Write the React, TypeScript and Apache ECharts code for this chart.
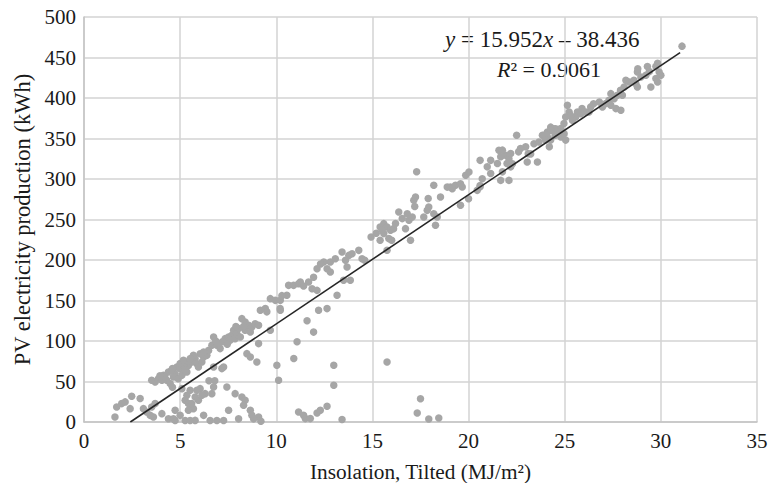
import React, { useEffect, useRef } from "react";
import * as echarts from "echarts";

const FONT = '"Liberation Serif", "Times New Roman", serif';

const xTicks = { min: 0, max: 35, interval: 5 };
const yTicks = { min: 0, max: 500, interval: 50 };

const xAxisName = "Insolation, Tilted (MJ/m²)";
const yAxisName = "PV electricity production (kWh)";

const trendSlope = 15.952;
const trendIntercept = -38.436;
const trendXRange = [2.41, 31.0];
const equationText = "{i|y} = 15.952{i|x} – 38.436";
const r2Text = "{i|R}² = 0.9061";

// Upper band, low insolation
const bandLow: number[][] = [
  [1.61, 6.2], [1.7, 18.6], [1.96, 22.7], [2.14, 24.8], [2.4, 16.5], [2.48, 31.7], [2.92, 29],
  [3.09, 16.5], [3.52, 51.5], [3.7, 49.4], [3.87, 53.5], [4.05, 51.5], [4.13, 57.6], [4.39, 61.7],
  [4.56, 63.8], [4.74, 59.7], [4.65, 55.5], [4.3, 51.5], [4.48, 47.4], [4.83, 67.9], [5.0, 65.8],
  [4.9, 53.5], [5.09, 57.6], [5.35, 61.7], [5.43, 69.9], [5.6, 74], [5.78, 78.2], [5.87, 72],
  [5.95, 67.9], [6.13, 74], [6.22, 80.2], [6.39, 82.3], [6.48, 88.4], [6.04, 84.3], [5.69, 82.3],
  [5.35, 74], [5.17, 69.9], [5.0, 72.1], [5.17, 76.2], [5.52, 78.2], [6.22, 86.5], [4.2, 56],
  [4.6, 66], [3.95, 57], [5.25, 64],
];

// Upper band, insolation 6.5 - 10.6
const bandMidLow: number[][] = [
  [6.74, 105], [6.65, 94.7], [6.91, 94.7], [7.08, 90.6], [7.34, 102.9], [7.52, 105], [7.69, 107.1],
  [7.78, 113.2], [7.6, 100.8], [7.86, 102.9], [7.95, 109.1], [8.04, 115.3], [8.13, 105], [8.21, 127.6],
  [8.38, 123.5], [8.38, 113.2], [8.56, 119.4], [8.65, 111.1], [8.73, 117.3], [8.9, 121.4], [9.08, 119.4],
  [9.17, 138], [9.43, 140], [9.51, 136], [9.69, 113.2], [9.69, 152.3], [9.95, 150.2], [10.21, 150.2],
  [10.21, 138], [10.55, 156.4], [7.0, 97], [7.2, 99], [6.85, 100], [7.45, 96], [8.3, 118], [7.9, 118],
];

// Upper band, insolation 10.6 - 15
const bandMid: number[][] = [
  [10.64, 168.7], [10.9, 168.7], [11.16, 170.8], [11.68, 172.8], [11.86, 164.6], [12.12, 162.5],
  [10.29, 156], [10.2, 140], [11.6, 125], [11.94, 111], [12.2, 137.9], [12.64, 140], [13.16, 156.4],
  [13.5, 174.9], [13.85, 174.9], [13.68, 191.4], [12.12, 189.3], [12.64, 189.3], [12.81, 197.5],
  [13.07, 201.6], [13.42, 209.8], [13.77, 205.7], [13.94, 207.8], [14.29, 211.9], [14.46, 201.6],
  [14.6, 199.6], [12.47, 197.5], [12.81, 185.2], [13.6, 199.6], [12.3, 195], [11.94, 178.8],
  [11.25, 172.8], [11.42, 168],
];

// Upper band, insolation 15 - 20.6
const bandMidHigh: number[][] = [
  [14.93, 228.4], [15.4, 224.3], [15.4, 240.8], [15.59, 244.9], [15.76, 240.8], [15.94, 236.7],
  [16.1, 238.7], [15.59, 232.6], [15.85, 226.4], [16.0, 224.3], [15.76, 212], [16.37, 259.3],
  [16.55, 251.1], [16.81, 257.2], [16.9, 249], [17.07, 253.1], [17.15, 273.7], [17.24, 277.8],
  [16.72, 238.7], [16.98, 224.3], [17.67, 253.1], [17.85, 261.3], [17.93, 265.4], [18.19, 257.2],
  [18.37, 253.1], [18.28, 242.8], [18.19, 292.2], [18.54, 277.8], [19.06, 290.1], [19.32, 292.2],
  [19.58, 294.2], [19.67, 290.1], [19.58, 267.5], [20.0, 275.7], [20.45, 286], [20.6, 292],
  [17.3, 309], [17.9, 276], [18.89, 290], [19.15, 288], [19.85, 304.6], [20.02, 308.7],
  [15.2, 233], [15.5, 237], [16.2, 245], [17.2, 266],
];

// Upper band, insolation 20.6 - 25
const bandHigh: number[][] = [
  [20.6, 323], [20.71, 300.4], [21.15, 323], [21.58, 335.4], [21.93, 329.2], [22.1, 325],
  [22.28, 318.9], [21.67, 298.3], [22.1, 298.3], [23.1, 331.3], [23.4, 343.6], [23.05, 321],
  [23.58, 321], [22.5, 354], [23.66, 345.7], [23.84, 354], [24.1, 358], [24.27, 364],
  [24.53, 362], [24.8, 352], [24.97, 356], [23.23, 331], [22.97, 339.7], [22.7, 337.6],
  [22.6, 333.5], [22.19, 331.5], [21.76, 335.6], [21.67, 327.4], [22.0, 319.1], [22.19, 315],
  [21.76, 308.8], [21.5, 319.1], [20.97, 315], [21.15, 306.8], [20.6, 290.3],
];

// Upper band, insolation 24 - 31
const bandTop: number[][] = [
  [31.1, 464], [29.83, 442.9], [29.74, 438.8], [29.91, 432.1], [30.0, 428], [29.74, 424],
  [29.83, 419.8], [29.48, 413.6], [29.3, 438.8], [29.4, 432.7], [29.22, 428], [28.96, 426],
  [28.78, 432], [28.7, 417.7], [28.78, 413.6], [28.35, 419.8], [28.18, 421.9], [28.09, 413.6],
  [27.9, 409.5], [28.0, 403.3], [27.74, 403.3], [27.57, 399.2], [27.4, 405.4], [27.3, 397.2],
  [27.4, 391], [27.66, 386.9], [27.92, 384.9], [27.14, 393.1], [26.96, 389], [26.8, 395],
  [26.5, 393], [26.35, 389], [26.26, 382.8], [26.1, 382.8], [25.9, 386.9], [25.83, 380.7],
  [25.66, 382.8], [25.57, 376.6], [25.4, 372.5], [25.14, 391], [25.23, 382.8], [25.3, 378.6],
  [25.05, 376.6], [24.96, 368.4], [24.79, 362.3], [24.7, 358], [24.44, 362], [24.27, 360],
  [24.1, 352], [23.92, 354], [24.0, 348], [24.5, 354], [24.27, 348], [25.05, 348], [24.2, 339.9],
  [28.6, 422], [28.8, 436],
];

// Low-output days below the band
const lowOutliers: number[][] = [
  [3.52, 18.6], [3.7, 22.7], [3.61, 6.2], [4.05, 10.3], [4.39, 4.1], [4.74, 2], [3.26, 12.4],
  [3.44, 8.2], [5.09, 41.2], [5.35, 33], [5.52, 39.1], [5.26, 26.9], [5.43, 22.7], [5.69, 16.5],
  [5.78, 30.9], [6.04, 41.2], [5.95, 26.9], [6.3, 35], [6.22, 8.2], [5.78, 2], [5.0, 8.2],
  [4.74, 14.4], [4.6, 43], [5.43, 14.4], [5.6, 22.7], [5.87, 39.1], [6.13, 32.9], [6.74, 43.2],
  [6.65, 35], [5.26, 1.9], [5.52, 1.9], [4.65, 4], [6.56, 1.9], [6.91, 1.9], [7.26, 1.9],
  [7.17, 65.9], [6.74, 68], [7.26, 68], [6.5, 51], [6.8, 51], [7.43, 43.2], [7.86, 35],
  [8.21, 30.9], [8.38, 26.8], [8.3, 20.6], [7.52, 14.4], [8.65, 14.4], [8.73, 8.2], [9.08, 6.2],
  [9.2, 1], [8.04, 3.9], [8.82, 3.9], [8.47, 84.4], [8.65, 80.3], [8.99, 74.1], [9.08, 96.8],
  [10.03, 70], [10.12, 51.5], [11.08, 99], [10.91, 78.5], [11.16, 12.3], [11.42, 8.2],
  [11.51, 4.2], [11.77, 4.2], [12.12, 11.2], [12.29, 14.5], [12.64, 19.4], [12.99, 45.3],
  [12.99, 70], [13.42, 3], [15.76, 74], [17.5, 28.8], [17.33, 11.2], [17.93, 3.8], [18.45, 5],
];

const scatterData = [
  ...bandLow, ...bandMidLow, ...bandMid, ...bandMidHigh, ...bandHigh, ...bandTop, ...lowOutliers,
];

const trendData = trendXRange.map((x) => [x, trendSlope * x + trendIntercept]);

export default function App() {
  const ref = useRef<HTMLDivElement>(null);
  useEffect(() => {
    if (!ref.current) return;
    const chart = echarts.init(ref.current, null, { renderer: "svg" });
    const axisLineStyle = { color: "#c4c4c4", width: 1.5 };
    const splitStyle = { color: "#d3d3d3", width: 1.5 };
    chart.setOption({
      animation: false,
      backgroundColor: "#ffffff",
      grid: { left: 84, right: 11, top: 17, bottom: 61, containLabel: false, outerBoundsMode: "none" },
      xAxis: {
        type: "value",
        ...xTicks,
        axisLine: { show: true, lineStyle: axisLineStyle },
        axisTick: { show: false },
        splitLine: { show: true, lineStyle: splitStyle },
        axisLabel: { color: "#1a1a1a", fontSize: 21, fontFamily: FONT, margin: 8 },
        name: xAxisName,
        nameLocation: "middle",
        nameGap: 39,
        nameTextStyle: { color: "#1a1a1a", fontSize: 21.3, fontFamily: FONT },
      },
      yAxis: {
        type: "value",
        ...yTicks,
        axisLine: { show: true, lineStyle: axisLineStyle },
        axisTick: { show: false },
        splitLine: { show: true, lineStyle: splitStyle },
        axisLabel: { color: "#1a1a1a", fontSize: 21, fontFamily: FONT, margin: 8 },
        name: yAxisName,
        nameLocation: "middle",
        nameGap: 50,
        nameTextStyle: { color: "#1a1a1a", fontSize: 22.5, fontFamily: FONT },
      },
      series: [
        {
          type: "scatter",
          data: scatterData,
          symbolSize: 7.5,
          itemStyle: { color: "#a6a6a6", opacity: 1 },
          z: 2,
        },
        {
          type: "line",
          data: trendData,
          symbol: "none",
          lineStyle: { color: "#262626", width: 1.6 },
          z: 3,
        },
      ],
      graphic: [
        {
          type: "text",
          x: 445,
          y: 39,
          style: {
            text: equationText,
            fontSize: 23,
            fontFamily: FONT,
            fill: "#1a1a1a",
            align: "left",
            verticalAlign: "middle",
            rich: { i: { fontStyle: "italic", fontSize: 23, fontFamily: FONT, fill: "#1a1a1a" } },
          },
        },
        {
          type: "text",
          x: 497,
          y: 69,
          style: {
            text: r2Text,
            fontSize: 22,
            fontFamily: FONT,
            fill: "#1a1a1a",
            align: "left",
            verticalAlign: "middle",
            rich: { i: { fontStyle: "italic", fontSize: 22, fontFamily: FONT, fill: "#1a1a1a" } },
          },
        },
      ],
    });
    return () => chart.dispose();
  }, []);
  return (
    <div
      ref={ref}
      style={{ position: "fixed", left: 0, top: 0, width: 768, height: 483, background: "#fff" }}
    />
  );
}
